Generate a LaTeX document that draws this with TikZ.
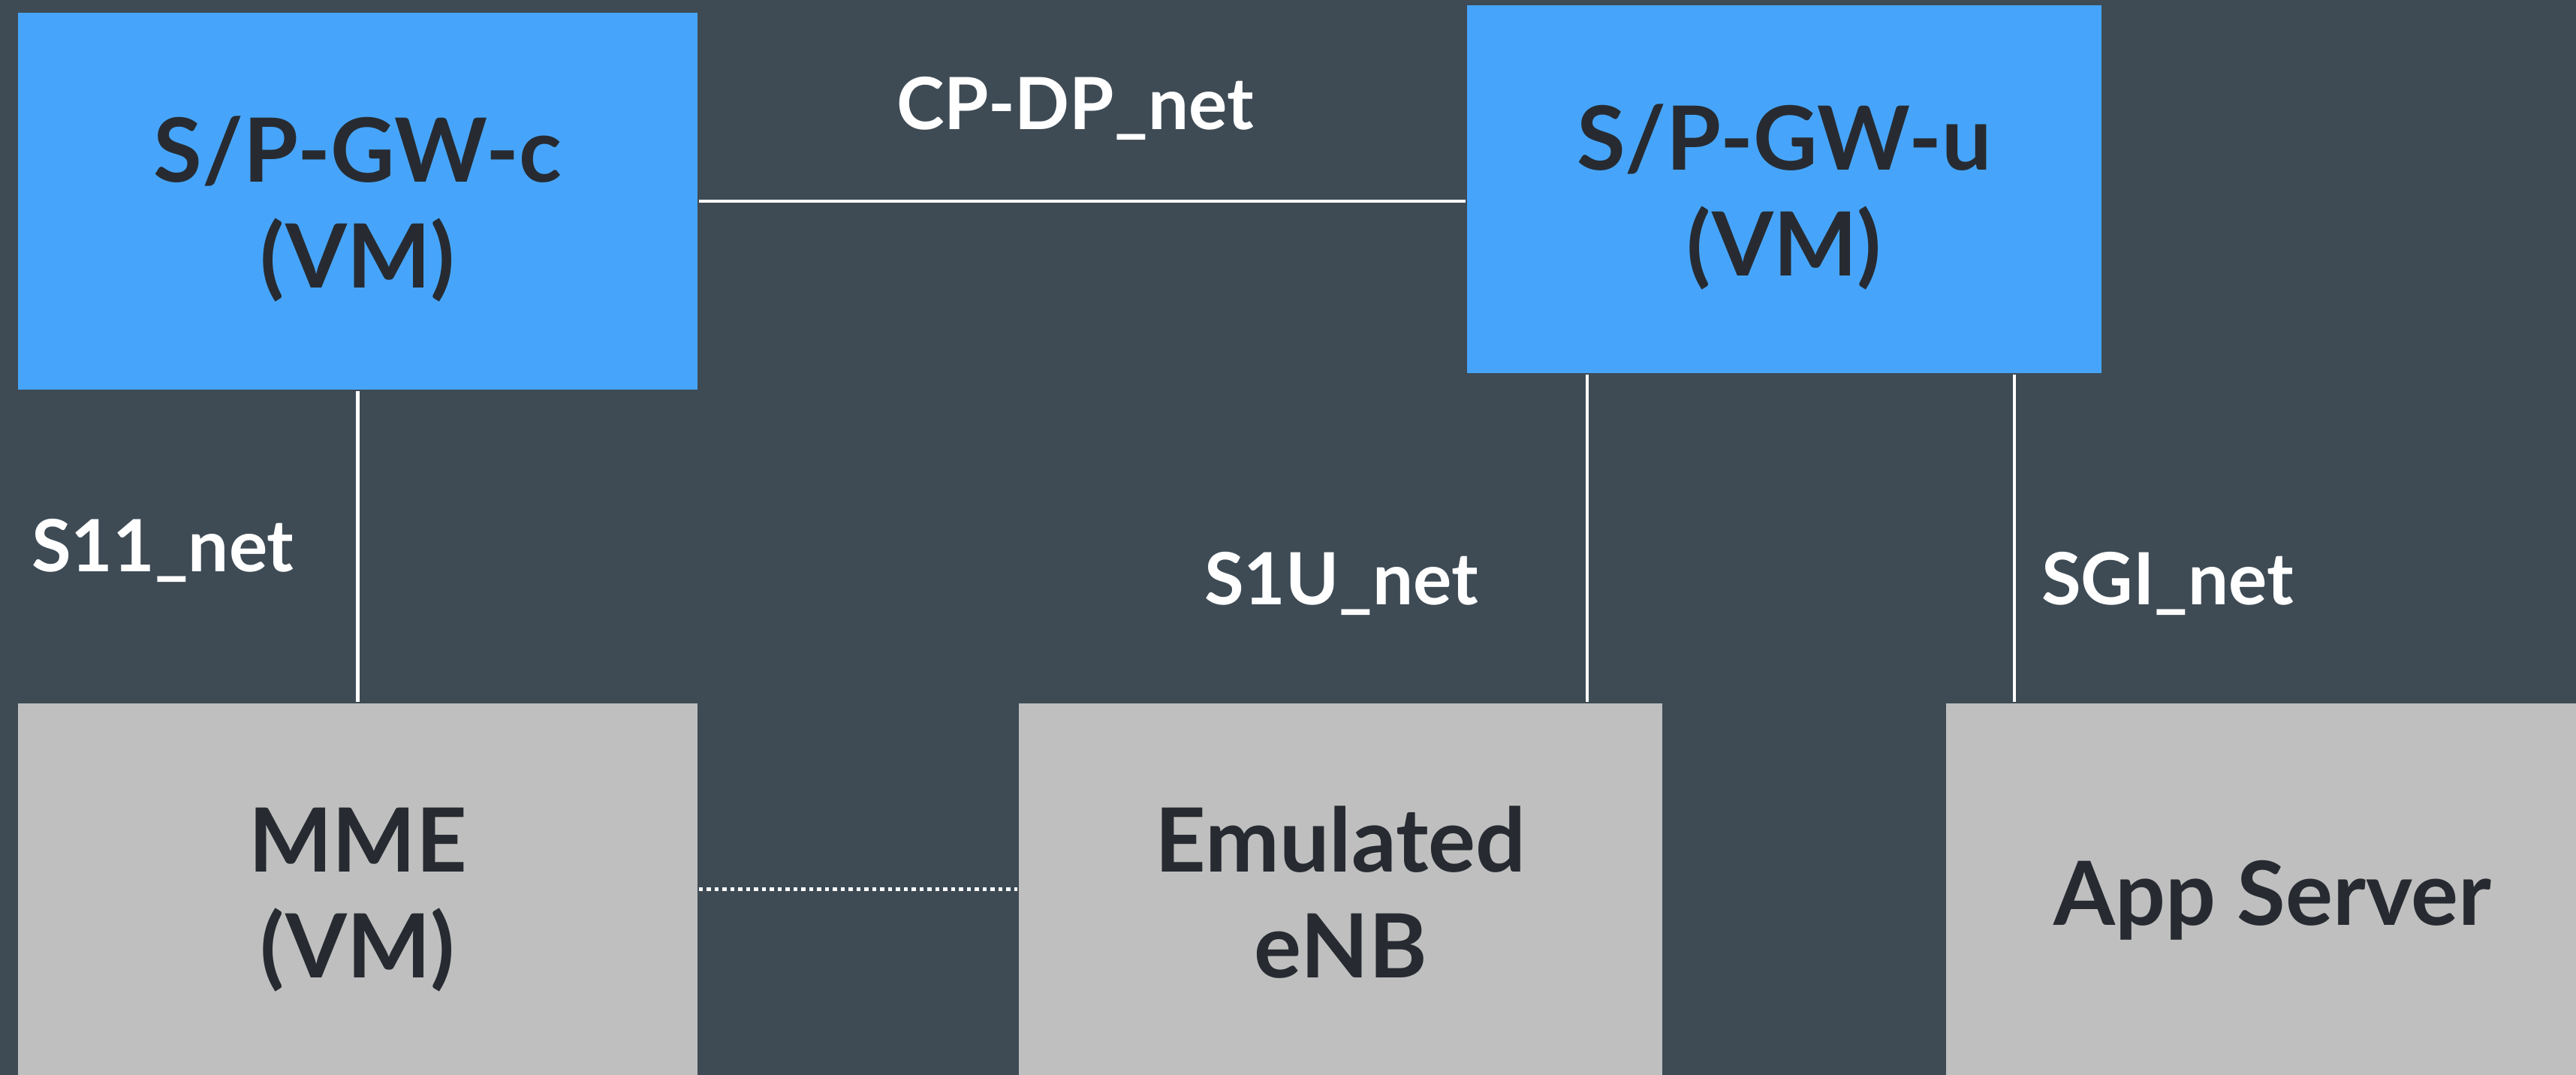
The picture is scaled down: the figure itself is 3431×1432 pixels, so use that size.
\documentclass[tikz,border=0pt]{standalone}
\usepackage{fontspec}
\setmainfont{Lato}
\definecolor{bgslate}{HTML}{3E4B55}
\definecolor{gwblue}{HTML}{46A5FA}
\definecolor{hostgrey}{HTML}{BFBFBF}
\definecolor{inkdark}{HTML}{272B31}
\tikzset{
  gwbox/.style={rectangle, fill=gwblue, draw=none, inner sep=0pt},
  hostbox/.style={rectangle, fill=hostgrey, draw=none, inner sep=0pt},
  boxtext/.style={font=\bfseries\fontsize{11.8}{14.1}\selectfont, text=inkdark, anchor=base, inner sep=0pt},
  netlabel/.style={font=\bfseries\fontsize{9.6}{12}\selectfont, text=white, anchor=base west, inner sep=0pt},
  netline/.style={draw=white, line width=0.45pt},
  dotline/.style={draw=white, line width=0.5pt, dash pattern=on 0.55pt off 0.5pt}
}
\begin{document}
\begin{tikzpicture}[x=0.1pt,y=-0.1pt]
\path[fill=bgslate, use as bounding box] (0,0) rectangle (3431,1432);
\clip (0,0) rectangle (3431,1432);
% boxes
\node[gwbox, minimum width=90.5pt, minimum height=50.2pt] (spgwc) at (476.5,268) {};
\node[gwbox, minimum width=84.5pt, minimum height=49pt] (spgwu) at (2376.5,252) {};
\node[hostbox, minimum width=90.5pt, minimum height=50.8pt] (mme) at (476.5,1191) {};
\node[hostbox, minimum width=85.7pt, minimum height=50.8pt] (enb) at (1785.5,1191) {};
\node[hostbox, minimum width=87pt, minimum height=50.8pt] (app) at (3027,1191) {};
% box texts
\node[boxtext] (spgwc-a) at (476.5,243) {S/P-GW-c};
\node[boxtext] (spgwc-b) at (476.5,384) {(VM)};
\node[boxtext] (spgwu-a) at (2376.5,227) {S/P-GW-u};
\node[boxtext] (spgwu-b) at (2376.5,368) {(VM)};
\node[boxtext] (mme-a) at (476.5,1162) {MME};
\node[boxtext] (mme-b) at (476.5,1303) {(VM)};
\node[boxtext] (enb-a) at (1785.5,1162) {Emulated};
\node[boxtext] (enb-b) at (1785.5,1303) {eNB};
\node[boxtext] (app-a) at (3027,1233) {App Server};
% connectors
\draw[netline] (spgwc.east) -- (spgwc.east -| spgwu.west);
\draw[netline] (spgwc.south) -- (mme.north);
\draw[netline] ([xshift=16.2pt]spgwu.south west) coordinate (s1utop) -- (s1utop |- enb.north);
\draw[netline] ([xshift=73.1pt]spgwu.south west) coordinate (sgitop) -- (sgitop |- app.north);
\draw[dotline] ([yshift=-25pt]mme.north east) coordinate (dotl) -- (dotl -| enb.west);
% labels
\node[netlabel] (cpdp) at (1192,173) {CP-DP\_net};
\node[netlabel] (s11) at (40,762) {S11\_net};
\node[netlabel] (s1u) at (1602,806) {S1U\_net};
\node[netlabel] (sgi) at (2717,806) {SGI\_net};
\end{tikzpicture}
\end{document}
